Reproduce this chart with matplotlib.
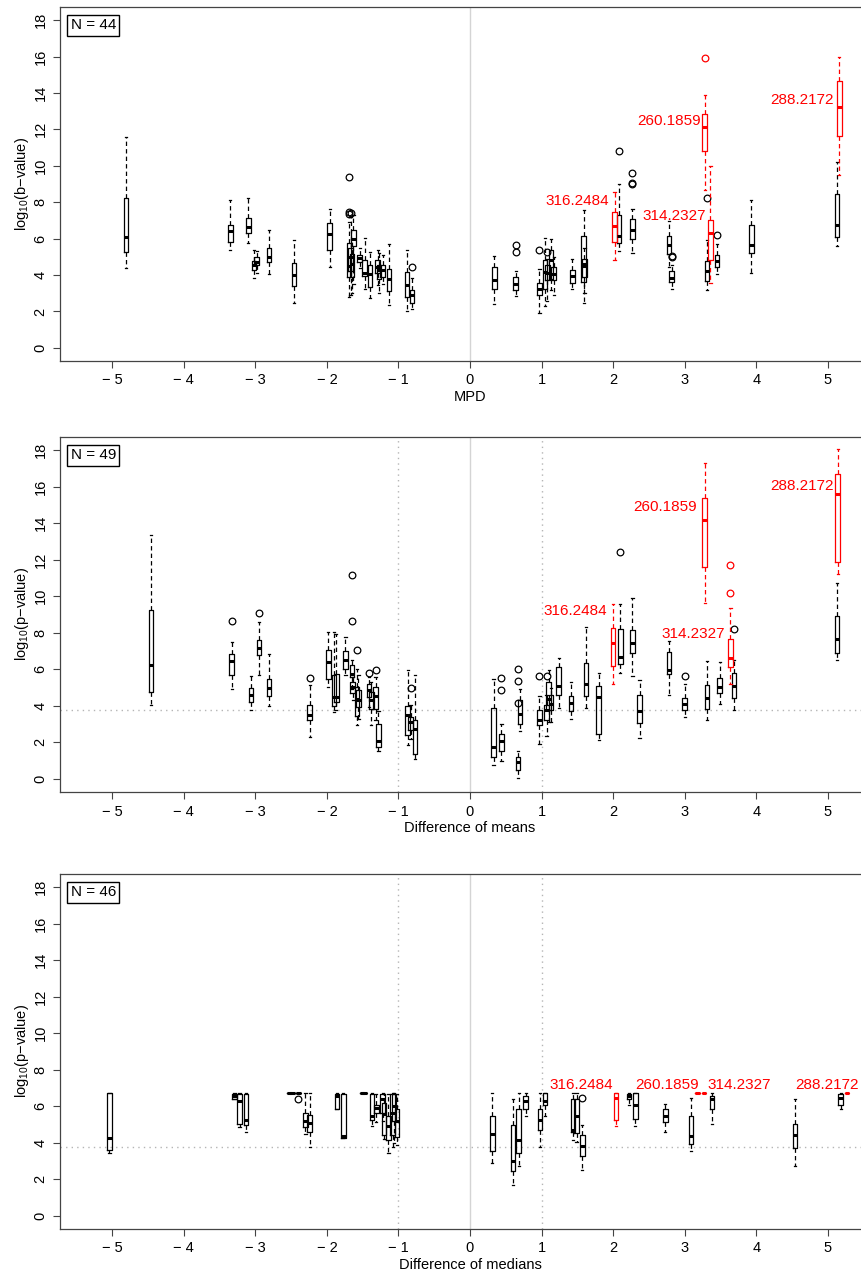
import matplotlib
matplotlib.use("Agg")
import matplotlib.pyplot as plt

plt.rcParams["font.family"] = ["Liberation Sans", "DejaVu Sans"]
plt.rcParams["mathtext.fontset"] = "custom"
plt.rcParams["mathtext.rm"] = "Liberation Sans"

# ── Data: (x, whisker_lo, q1, median, q3, whisker_hi, fliers, red) ─────────────
MPD_BOXES = [
    (-4.81, 4.36, 5.24, 6.08, 8.23, 11.57, [], False),
    (-3.35, 5.35, 5.80, 6.40, 6.76, 8.10, [], False),
    (-3.10, 5.78, 6.30, 6.65, 7.15, 8.25, [], False),
    (-3.02, 3.85, 4.25, 4.55, 4.75, 5.40, [], False),
    (-2.98, 4.10, 4.55, 4.70, 5.00, 5.30, [], False),
    (-2.81, 4.08, 4.72, 5.00, 5.50, 6.50, [], False),
    (-2.46, 2.47, 3.38, 4.00, 4.68, 5.90, [], False),
    (-1.96, 4.42, 5.37, 6.24, 6.86, 7.63, [], False),
    (-1.69, 2.80, 3.90, 4.50, 5.75, 6.90, [7.35, 7.45, 9.38], False),
    (-1.67, 2.90, 4.20, 5.00, 5.50, 7.20, [7.40], False),
    (-1.65, 3.00, 3.90, 4.60, 5.18, 6.00, [], False),
    (-1.63, 3.50, 5.59, 6.00, 6.50, 7.30, [], False),
    (-1.54, 4.36, 4.73, 4.91, 5.09, 5.51, [], False),
    (-1.47, 3.21, 3.94, 4.12, 4.82, 6.06, [], False),
    (-1.40, 2.72, 3.36, 4.05, 4.55, 5.27, [], False),
    (-1.29, 3.45, 4.09, 4.45, 4.82, 5.37, [], False),
    (-1.27, 3.00, 3.80, 4.30, 4.55, 5.20, [], False),
    (-1.22, 3.50, 3.90, 4.30, 4.55, 5.10, [], False),
    (-1.13, 2.35, 3.10, 3.76, 4.31, 5.70, [], False),
    (-0.88, 2.04, 2.81, 3.45, 4.16, 5.40, [], False),
    (-0.81, 2.12, 2.45, 2.90, 3.18, 3.82, [4.45], False),
    (0.34, 2.39, 3.22, 3.71, 4.44, 5.03, [], False),
    (0.64, 2.83, 3.16, 3.53, 3.89, 4.22, [5.27, 5.67], False),
    (0.97, 1.92, 2.89, 3.25, 3.56, 4.35, [5.36], False),
    (1.05, 2.29, 3.25, 4.17, 4.81, 6.05, [], False),
    (1.08, 2.60, 3.71, 4.10, 4.53, 4.90, [5.27], False),
    (1.13, 3.16, 3.80, 4.81, 5.36, 6.00, [], False),
    (1.17, 2.89, 3.71, 4.08, 4.44, 5.00, [], False),
    (1.43, 3.25, 3.56, 3.97, 4.26, 4.88, [], False),
    (1.59, 2.47, 3.63, 4.60, 6.15, 7.59, [], False),
    (1.60, 3.00, 3.90, 4.50, 4.90, 5.50, [], False),
    (2.02, 4.82, 5.82, 6.68, 7.46, 8.56, [], True),
    (2.08, 5.32, 5.78, 6.12, 7.28, 8.98, [10.80], False),
    (2.27, 5.23, 5.96, 6.45, 7.09, 7.60, [9.00, 9.05, 9.60], False),
    (2.78, 4.44, 5.14, 5.63, 6.12, 6.97, [], False),
    (2.82, 3.25, 3.62, 3.86, 4.20, 4.53, [5.00, 5.05], False),
    (3.28, 8.65, 10.80, 12.12, 12.85, 13.91, [15.92], True),
    (3.31, 3.20, 3.66, 4.22, 4.75, 5.90, [8.23], False),
    (3.36, 3.56, 4.84, 6.33, 7.00, 9.98, [], True),
    (3.45, 4.04, 4.44, 4.77, 5.08, 5.72, [6.22], False),
    (3.93, 4.11, 5.23, 5.63, 6.73, 8.10, [], False),
    (5.13, 5.59, 6.09, 6.76, 8.43, 10.20, [], False),
    (5.16, 9.47, 11.66, 13.25, 14.64, 15.96, [], True),
]

MEANS_BOXES = [
    (-4.46, 4.06, 4.75, 6.22, 9.23, 13.38, [], False),
    (-3.33, 4.94, 5.67, 6.45, 6.82, 7.50, [8.63], False),
    (-3.06, 3.75, 4.20, 4.60, 4.97, 5.61, [], False),
    (-2.95, 5.67, 6.76, 7.17, 7.62, 8.59, [9.09], False),
    (-2.81, 3.99, 4.53, 4.99, 5.48, 6.82, [], False),
    (-2.24, 2.29, 3.20, 3.47, 4.02, 5.12, [5.52], False),
    (-1.98, 5.03, 5.48, 6.40, 7.07, 8.04, [], False),
    (-1.90, 3.66, 3.97, 4.48, 5.67, 8.04, [], False),
    (-1.87, 3.75, 4.20, 4.50, 5.76, 7.95, [], False),
    (-1.74, 5.67, 6.03, 6.53, 7.00, 7.77, [], False),
    (-1.65, 4.90, 5.58, 5.76, 6.25, 6.50, [8.63, 11.15], False),
    (-1.64, 4.30, 4.70, 5.03, 5.30, 5.60, [], False),
    (-1.58, 2.93, 3.42, 4.39, 5.03, 6.03, [7.07], False),
    (-1.56, 3.30, 3.93, 4.30, 4.84, 5.70, [], False),
    (-1.41, 3.93, 4.48, 4.84, 5.21, 5.60, [5.80], False),
    (-1.38, 2.93, 3.84, 4.30, 4.75, 5.30, [], False),
    (-1.32, 3.20, 3.84, 4.52, 5.03, 5.58, [5.98], False),
    (-1.28, 1.52, 1.74, 2.10, 2.98, 3.71, [], False),
    (-0.87, 1.83, 2.38, 3.47, 3.97, 5.94, [], False),
    (-0.83, 2.19, 2.65, 3.11, 3.38, 4.02, [4.97], False),
    (-0.77, 1.10, 1.37, 2.74, 3.20, 5.67, [], False),
    (0.33, 0.77, 1.19, 1.77, 3.89, 5.48, [], False),
    (0.44, 1.00, 1.55, 2.10, 2.47, 3.02, [4.88, 5.54], False),
    (0.67, 0.05, 0.46, 0.91, 1.22, 1.50, [4.15, 5.36, 6.03], False),
    (0.70, 2.60, 3.02, 3.56, 4.33, 4.90, [], False),
    (0.97, 1.92, 2.93, 3.20, 3.75, 4.52, [5.61], False),
    (1.07, 2.32, 3.24, 3.78, 4.02, 4.60, [5.61], False),
    (1.10, 3.11, 3.75, 4.39, 5.30, 5.94, [], False),
    (1.13, 3.11, 3.75, 4.11, 4.57, 5.00, [], False),
    (1.24, 3.89, 4.57, 5.08, 6.12, 6.64, [], False),
    (1.41, 3.29, 3.71, 4.13, 4.52, 5.30, [], False),
    (1.62, 3.89, 4.52, 5.21, 6.34, 8.32, [], False),
    (1.80, 2.14, 2.47, 4.48, 5.06, 5.80, [], False),
    (2.00, 5.21, 6.16, 7.44, 8.24, 9.56, [], True),
    (2.10, 5.80, 6.27, 6.67, 8.23, 9.60, [12.43], False),
    (2.27, 5.61, 6.89, 7.44, 8.17, 9.93, [], False),
    (2.37, 2.25, 3.05, 3.71, 4.57, 5.39, [], False),
    (2.78, 4.61, 5.76, 5.94, 6.95, 7.55, [], False),
    (3.00, 3.38, 3.78, 4.08, 4.44, 5.21, [5.63], False),
    (3.28, 9.64, 11.61, 14.17, 15.36, 17.31, [], True),
    (3.31, 3.24, 3.84, 4.44, 5.15, 6.45, [], False),
    (3.49, 4.08, 4.70, 5.03, 5.52, 6.40, [], False),
    (3.64, 5.21, 6.10, 6.64, 7.68, 9.37, [10.15, 11.70], True),
    (3.69, 3.78, 4.44, 5.08, 5.80, 6.49, [8.23], False),
    (5.13, 6.53, 6.89, 7.64, 8.90, 10.73, [], False),
    (5.14, 11.21, 11.88, 15.59, 16.69, 18.04, [], True),
]

MEDIANS_BOXES = [
    (-5.04, 3.44, 3.62, 4.26, 6.73, 6.73, [], False),
    (-3.29, 6.40, 6.40, 6.54, 6.69, 6.73, [], False),
    (-3.22, 4.86, 5.05, 6.27, 6.69, 6.73, [], False),
    (-3.13, 4.57, 5.00, 5.23, 6.69, 6.73, [], False),
    (-2.53, 6.73, 6.73, 6.73, 6.73, 6.73, [], False),
    (-2.48, 6.73, 6.73, 6.73, 6.73, 6.73, [], False),
    (-2.40, 6.73, 6.73, 6.73, 6.73, 6.73, [6.42], False),
    (-2.30, 4.50, 4.86, 5.19, 5.63, 6.73, [], False),
    (-2.24, 3.77, 4.57, 5.09, 5.54, 6.73, [], False),
    (-1.86, 5.85, 5.85, 6.58, 6.69, 6.73, [], False),
    (-1.77, 4.26, 4.26, 4.35, 6.69, 6.73, [], False),
    (-1.51, 6.73, 6.73, 6.73, 6.73, 6.73, [], False),
    (-1.47, 6.73, 6.73, 6.73, 6.73, 6.73, [], False),
    (-1.37, 4.90, 5.27, 5.45, 6.69, 6.73, [], False),
    (-1.31, 5.12, 5.63, 5.90, 6.09, 6.69, [], False),
    (-1.22, 5.21, 5.63, 6.40, 6.69, 6.73, [], False),
    (-1.20, 4.20, 4.44, 5.60, 6.18, 6.69, [], False),
    (-1.14, 3.44, 4.17, 4.90, 5.45, 6.69, [], False),
    (-1.08, 3.77, 4.44, 5.63, 6.69, 6.73, [], False),
    (-1.06, 4.00, 5.17, 6.00, 6.69, 6.73, [], False),
    (-1.02, 3.90, 4.30, 5.17, 5.85, 6.69, [], False),
    (0.31, 2.89, 3.53, 4.50, 5.48, 6.73, [], False),
    (0.60, 1.70, 2.43, 2.98, 4.99, 6.42, [], False),
    (0.68, 2.71, 3.45, 4.17, 5.85, 6.73, [], False),
    (0.78, 5.45, 5.85, 6.27, 6.54, 6.73, [], False),
    (0.98, 3.77, 4.72, 5.27, 5.87, 6.73, [], False),
    (1.05, 5.45, 6.09, 6.27, 6.73, 6.73, [], False),
    (1.44, 4.17, 4.59, 4.68, 6.40, 6.73, [], False),
    (1.49, 4.02, 4.53, 5.45, 6.40, 6.73, [], False),
    (1.57, 2.52, 3.29, 3.80, 4.41, 4.99, [6.45], False),
    (2.04, 4.90, 5.23, 6.45, 6.73, 6.73, [], True),
    (2.22, 6.09, 6.40, 6.54, 6.69, 6.73, [], False),
    (2.31, 4.90, 5.30, 6.09, 6.73, 6.73, [], False),
    (2.73, 4.57, 5.12, 5.48, 5.85, 6.14, [], False),
    (3.09, 3.53, 3.93, 4.39, 5.45, 6.45, [], False),
    (3.18, 6.73, 6.73, 6.73, 6.73, 6.73, [], True),
    (3.27, 6.73, 6.73, 6.73, 6.73, 6.73, [], True),
    (3.38, 5.05, 5.85, 6.40, 6.54, 6.73, [], False),
    (4.54, 2.71, 3.71, 4.44, 5.05, 6.40, [], False),
    (5.18, 5.85, 6.09, 6.45, 6.69, 6.73, [], False),
    (5.27, 6.73, 6.73, 6.73, 6.73, 6.73, [], True),
]

# red annotations: (text, right edge x, y)
MPD_LABELS = [("316.2484", 1.95, 8.06), ("260.1859", 3.22, 12.45),
              ("314.2327", 3.30, 7.22), ("288.2172", 5.08, 13.62)]
MEANS_LABELS = [("316.2484", 1.91, 9.20), ("260.1859", 3.17, 14.90),
                ("314.2327", 3.57, 7.92), ("288.2172", 5.08, 16.03)]
MEDIANS_LABELS = [("316.2484", 2.00, 7.18), ("260.1859", 3.20, 7.18),
                  ("314.2327", 4.21, 7.18), ("288.2172", 5.44, 7.18)]

PANELS = [
    ("MPD", r"log$_{\mathrm{10}}$(b" + "\u2212" + "value)", 44, MPD_BOXES, MPD_LABELS, False),
    ("Difference of means", r"log$_{\mathrm{10}}$(p" + "\u2212" + "value)", 49, MEANS_BOXES, MEANS_LABELS, True),
    ("Difference of medians", r"log$_{\mathrm{10}}$(p" + "\u2212" + "value)", 46, MEDIANS_BOXES, MEDIANS_LABELS, True),
]
THRESHOLD = 3.75
X_TICKS = list(range(-5, 6))
X_TICKLABELS = [("\u2212 %d" % -t) if t < 0 else str(t) for t in X_TICKS]
Y_TICKS = list(range(0, 19, 2))

# axes rectangles in figure pixels (left, top, right, bottom) on an 862x1277 canvas
W, H = 862, 1277
RECTS = [(60, 7, 880, 361), (60, 437, 880, 792), (60, 874, 880, 1229)]


def draw_boxes(ax, boxes, color):
    if not boxes:
        return
    stats = [dict(med=b[3], q1=b[2], q3=b[4], whislo=b[1], whishi=b[5], fliers=b[6])
             for b in boxes]
    ax.bxp(stats, positions=[b[0] for b in boxes], widths=0.065, capwidths=0.032,
           manage_ticks=False, showfliers=True,
           boxprops=dict(color=color, lw=0.9),
           whiskerprops=dict(color=color, lw=0.9, linestyle=(0, (3.5, 2.5))),
           capprops=dict(color=color, lw=0.9),
           medianprops=dict(color=color, lw=2.2, solid_capstyle="butt"),
           flierprops=dict(marker="o", markerfacecolor="none", markeredgecolor=color,
                           markersize=4.8, markeredgewidth=0.9, linestyle="none"))


fig = plt.figure(figsize=(W / 100, H / 100), dpi=100)

for (xlabel, ylabel, n, boxes, labels, guides), (l, t, r, b) in zip(PANELS, RECTS):
    ax = fig.add_axes([l / W, 1 - b / H, (r - l) / W, (b - t) / H])
    ax.set_xlim(-5.73, 5.73)
    ax.set_ylim(-0.72, 18.72)

    ax.axvline(0, color="#d4d4d4", lw=1.0, zorder=0)
    if guides:
        for xv in (-1, 1):
            ax.axvline(xv, color="#b5b5b5", lw=1.0, linestyle=(0, (1, 3)), zorder=0)
        ax.axhline(THRESHOLD, color="#b5b5b5", lw=1.0, linestyle=(0, (1, 3)), zorder=0)

    draw_boxes(ax, [bx for bx in boxes if not bx[7]], "black")
    draw_boxes(ax, [bx for bx in boxes if bx[7]], "red")

    for txt, xr, yv in labels:
        ax.text(xr, yv, txt, color="red", fontsize=11, ha="right", va="center")

    ax.text(0.013, 0.968, f"N = {n}", transform=ax.transAxes, fontsize=11,
            ha="left", va="top",
            bbox=dict(boxstyle="square,pad=0.22", facecolor="white", edgecolor="black", lw=1.0))

    ax.set_xticks(X_TICKS)
    ax.set_xticklabels(X_TICKLABELS, fontsize=10.5)
    ax.set_yticks(Y_TICKS)
    ax.set_yticklabels([str(v) for v in Y_TICKS], fontsize=10.5, rotation=90, va="center")
    ax.tick_params(direction="out", length=5, width=0.8, color="#444444", pad=4)
    ax.tick_params(axis="y", pad=4)
    for s in ax.spines.values():
        s.set_color("#444444")
        s.set_linewidth(0.9)
    ax.set_xlabel(xlabel, fontsize=10.5, labelpad=2)
    ax.set_ylabel(ylabel, fontsize=10.5, labelpad=2)

fig.savefig("out.png", dpi=100)
